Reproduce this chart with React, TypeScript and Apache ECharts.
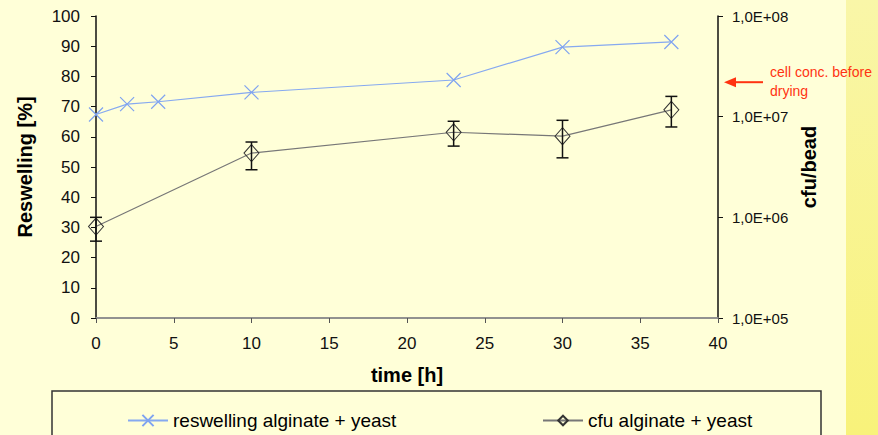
import React, { useEffect, useRef } from "react";
import * as echarts from "echarts";

const timeReswelling = [0, 2, 4, 10, 23, 30, 37];
const reswelling = [67.4, 70.8, 71.6, 74.7, 78.8, 89.7, 91.4];

const timeCfu = [0, 10, 23, 30, 37];
const cfu = [8.1e5, 4.35e6, 7.0e6, 6.4e6, 1.17e7];
const cfuLow = [5.8e5, 2.97e6, 5.1e6, 3.9e6, 7.9e6];
const cfuHigh = [1.0e6, 5.6e6, 9.0e6, 9.2e6, 1.59e7];

const cellConcBeforeDrying = 2.2e7;

const resName = "reswelling alginate + yeast";
const cfuName = "cfu alginate + yeast";

const FONT = "Liberation Sans, Arial, sans-serif";

export default function App() {
  const ref = useRef<HTMLDivElement>(null);
  useEffect(() => {
    if (!ref.current) return;
    document.body.style.margin = "0";
    const chart = echarts.init(ref.current, undefined, { renderer: "svg" });
    const xSym = "path://M0,0L10,10M10,0L0,10";
    const titleStyle = { fontSize: 20, fontWeight: "bold", color: "#000", fontFamily: FONT };
    const legendText = { fontSize: 19, color: "#000", fontFamily: FONT };
    const option: any = {
      animation: false,
      backgroundColor: "#FFFFD8",
      textStyle: { fontFamily: FONT },
      grid: { left: 96, right: 160, top: 16, bottom: 117 },
      legend: [
        {
          data: [resName],
          left: 127,
          top: 411,
          padding: 0,
          itemWidth: 40,
          itemHeight: 14,
          itemGap: 5,
          textStyle: legendText,
        },
        {
          data: [cfuName],
          left: 542,
          top: 411,
          padding: 0,
          itemWidth: 40,
          itemHeight: 12,
          itemGap: 5,
          textStyle: legendText,
        },
      ],
      xAxis: [
        {
          type: "value",
          min: 0,
          max: 40,
          interval: 5,
          name: "time [h]",
          nameLocation: "middle",
          nameGap: 47,
          nameTextStyle: titleStyle,
          axisLine: { onZero: false, lineStyle: { color: "#555", width: 1.5 } },
          axisTick: { show: true, length: 5, lineStyle: { color: "#555" } },
          axisLabel: { fontSize: 17, color: "#111", margin: 17, fontFamily: FONT },
          splitLine: { show: false },
        },
        {
          type: "value",
          position: "top",
          min: 0,
          max: 40,
          interval: 5,
          axisLine: { show: true, lineStyle: { color: "#999", width: 1.5 } },
          axisTick: { show: false },
          axisLabel: { show: false },
          splitLine: { show: false },
        },
      ],
      yAxis: [
        {
          type: "value",
          min: 0,
          max: 100,
          interval: 10,
          position: "left",
          name: "Reswelling [%]",
          nameLocation: "middle",
          nameRotate: 90,
          nameGap: 61,
          nameTextStyle: titleStyle,
          axisLine: { show: true, onZero: false, lineStyle: { color: "#111", width: 1.5 } },
          axisTick: { show: true, length: 5, lineStyle: { color: "#111" } },
          axisLabel: { fontSize: 17, color: "#111", margin: 16, fontFamily: FONT },
          splitLine: { show: false },
        },
        {
          type: "log",
          logBase: 10,
          min: 1e5,
          max: 1e8,
          position: "right",
          name: "cfu/bead",
          nameLocation: "middle",
          nameRotate: 90,
          nameGap: 80,
          nameTextStyle: titleStyle,
          axisLine: { show: true, onZero: false, lineStyle: { color: "#111", width: 1.5 } },
          axisTick: { show: true, length: 5, lineStyle: { color: "#111" } },
          axisLabel: {
            fontSize: 15,
            color: "#111",
            margin: 14,
            fontFamily: FONT,
            formatter: (v: number) => {
              const e = Math.round(Math.log10(v));
              return "1,0E+" + String(e).padStart(2, "0");
            },
          },
          splitLine: { show: false },
          minorTick: { show: false },
        },
      ],
      series: [
        {
          name: resName,
          type: "line",
          xAxisIndex: 0,
          yAxisIndex: 0,
          data: timeReswelling.map((t, i) => [t, reswelling[i]]),
          symbol: xSym,
          symbolSize: 14,
          lineStyle: { color: "#86A9F0", width: 1.2 },
          itemStyle: { color: "none", borderColor: "#7FA3F0", borderWidth: 1.2 },
          z: 3,
        },
        {
          name: cfuName,
          type: "line",
          xAxisIndex: 0,
          yAxisIndex: 1,
          data: timeCfu.map((t, i) => [t, cfu[i]]),
          symbol: "diamond",
          symbolSize: [15, 17],
          lineStyle: { color: "#777", width: 1.2 },
          itemStyle: { color: "rgba(0,0,0,0)", borderColor: "#333", borderWidth: 1 },
          z: 3,
        },
        {
          type: "custom",
          xAxisIndex: 0,
          yAxisIndex: 1,
          silent: true,
          data: timeCfu.map((t, i) => [t, cfuLow[i], cfuHigh[i]]),
          encode: { x: 0, y: [1, 2] },
          renderItem: (params: any, api: any) => {
            const lo = api.coord([api.value(0), api.value(1)]);
            const hi = api.coord([api.value(0), api.value(2)]);
            const w = 6;
            const style = { stroke: "#111", lineWidth: 1.5 };
            return {
              type: "group",
              children: [
                { type: "line", shape: { x1: lo[0], y1: lo[1], x2: hi[0], y2: hi[1] }, style },
                { type: "line", shape: { x1: lo[0] - w, y1: lo[1], x2: lo[0] + w, y2: lo[1] }, style },
                { type: "line", shape: { x1: hi[0] - w, y1: hi[1], x2: hi[0] + w, y2: hi[1] }, style },
              ],
            };
          },
          z: 4,
        },
      ],
    };
    chart.setOption(option);

    const ay = chart.convertToPixel({ yAxisIndex: 1 }, cellConcBeforeDrying) as number;
    const ax = chart.convertToPixel({ xAxisIndex: 0 }, 40) as number;
    const red = "#FF3311";
    chart.setOption({
      graphic: [
        {
          type: "rect",
          shape: { x: 846, y: 0, width: 40, height: 435 },
          style: {
            fill: new echarts.graphic.LinearGradient(0, 0, 0, 1, [
              { offset: 0, color: "#F9F6A8" },
              { offset: 1, color: "#F8F27A" },
            ]),
          },
          z: -1,
          silent: true,
        },
        {
          type: "rect",
          shape: { x: 52, y: 391, width: 769, height: 60 },
          style: { fill: "none", stroke: "#333", lineWidth: 1.5 },
          silent: true,
        },
        {
          type: "line",
          shape: { x1: ax + 14, y1: ay, x2: ax + 45, y2: ay },
          style: { stroke: red, lineWidth: 2 },
          silent: true,
        },
        {
          type: "polygon",
          shape: { points: [[ax + 6, ay], [ax + 18, ay - 5], [ax + 18, ay + 5]] },
          style: { fill: red },
          silent: true,
        },
        {
          type: "text",
          x: ax + 52,
          y: ay - 20,
          style: {
            text: "cell conc. before\ndrying",
            fill: red,
            font: "14px " + FONT,
            lineHeight: 19,
          },
          silent: true,
        },
      ],
    });
    return () => chart.dispose();
  }, []);
  return <div ref={ref} style={{ width: 878, height: 435, position: "fixed", left: 0, top: 0 }} />;
}
